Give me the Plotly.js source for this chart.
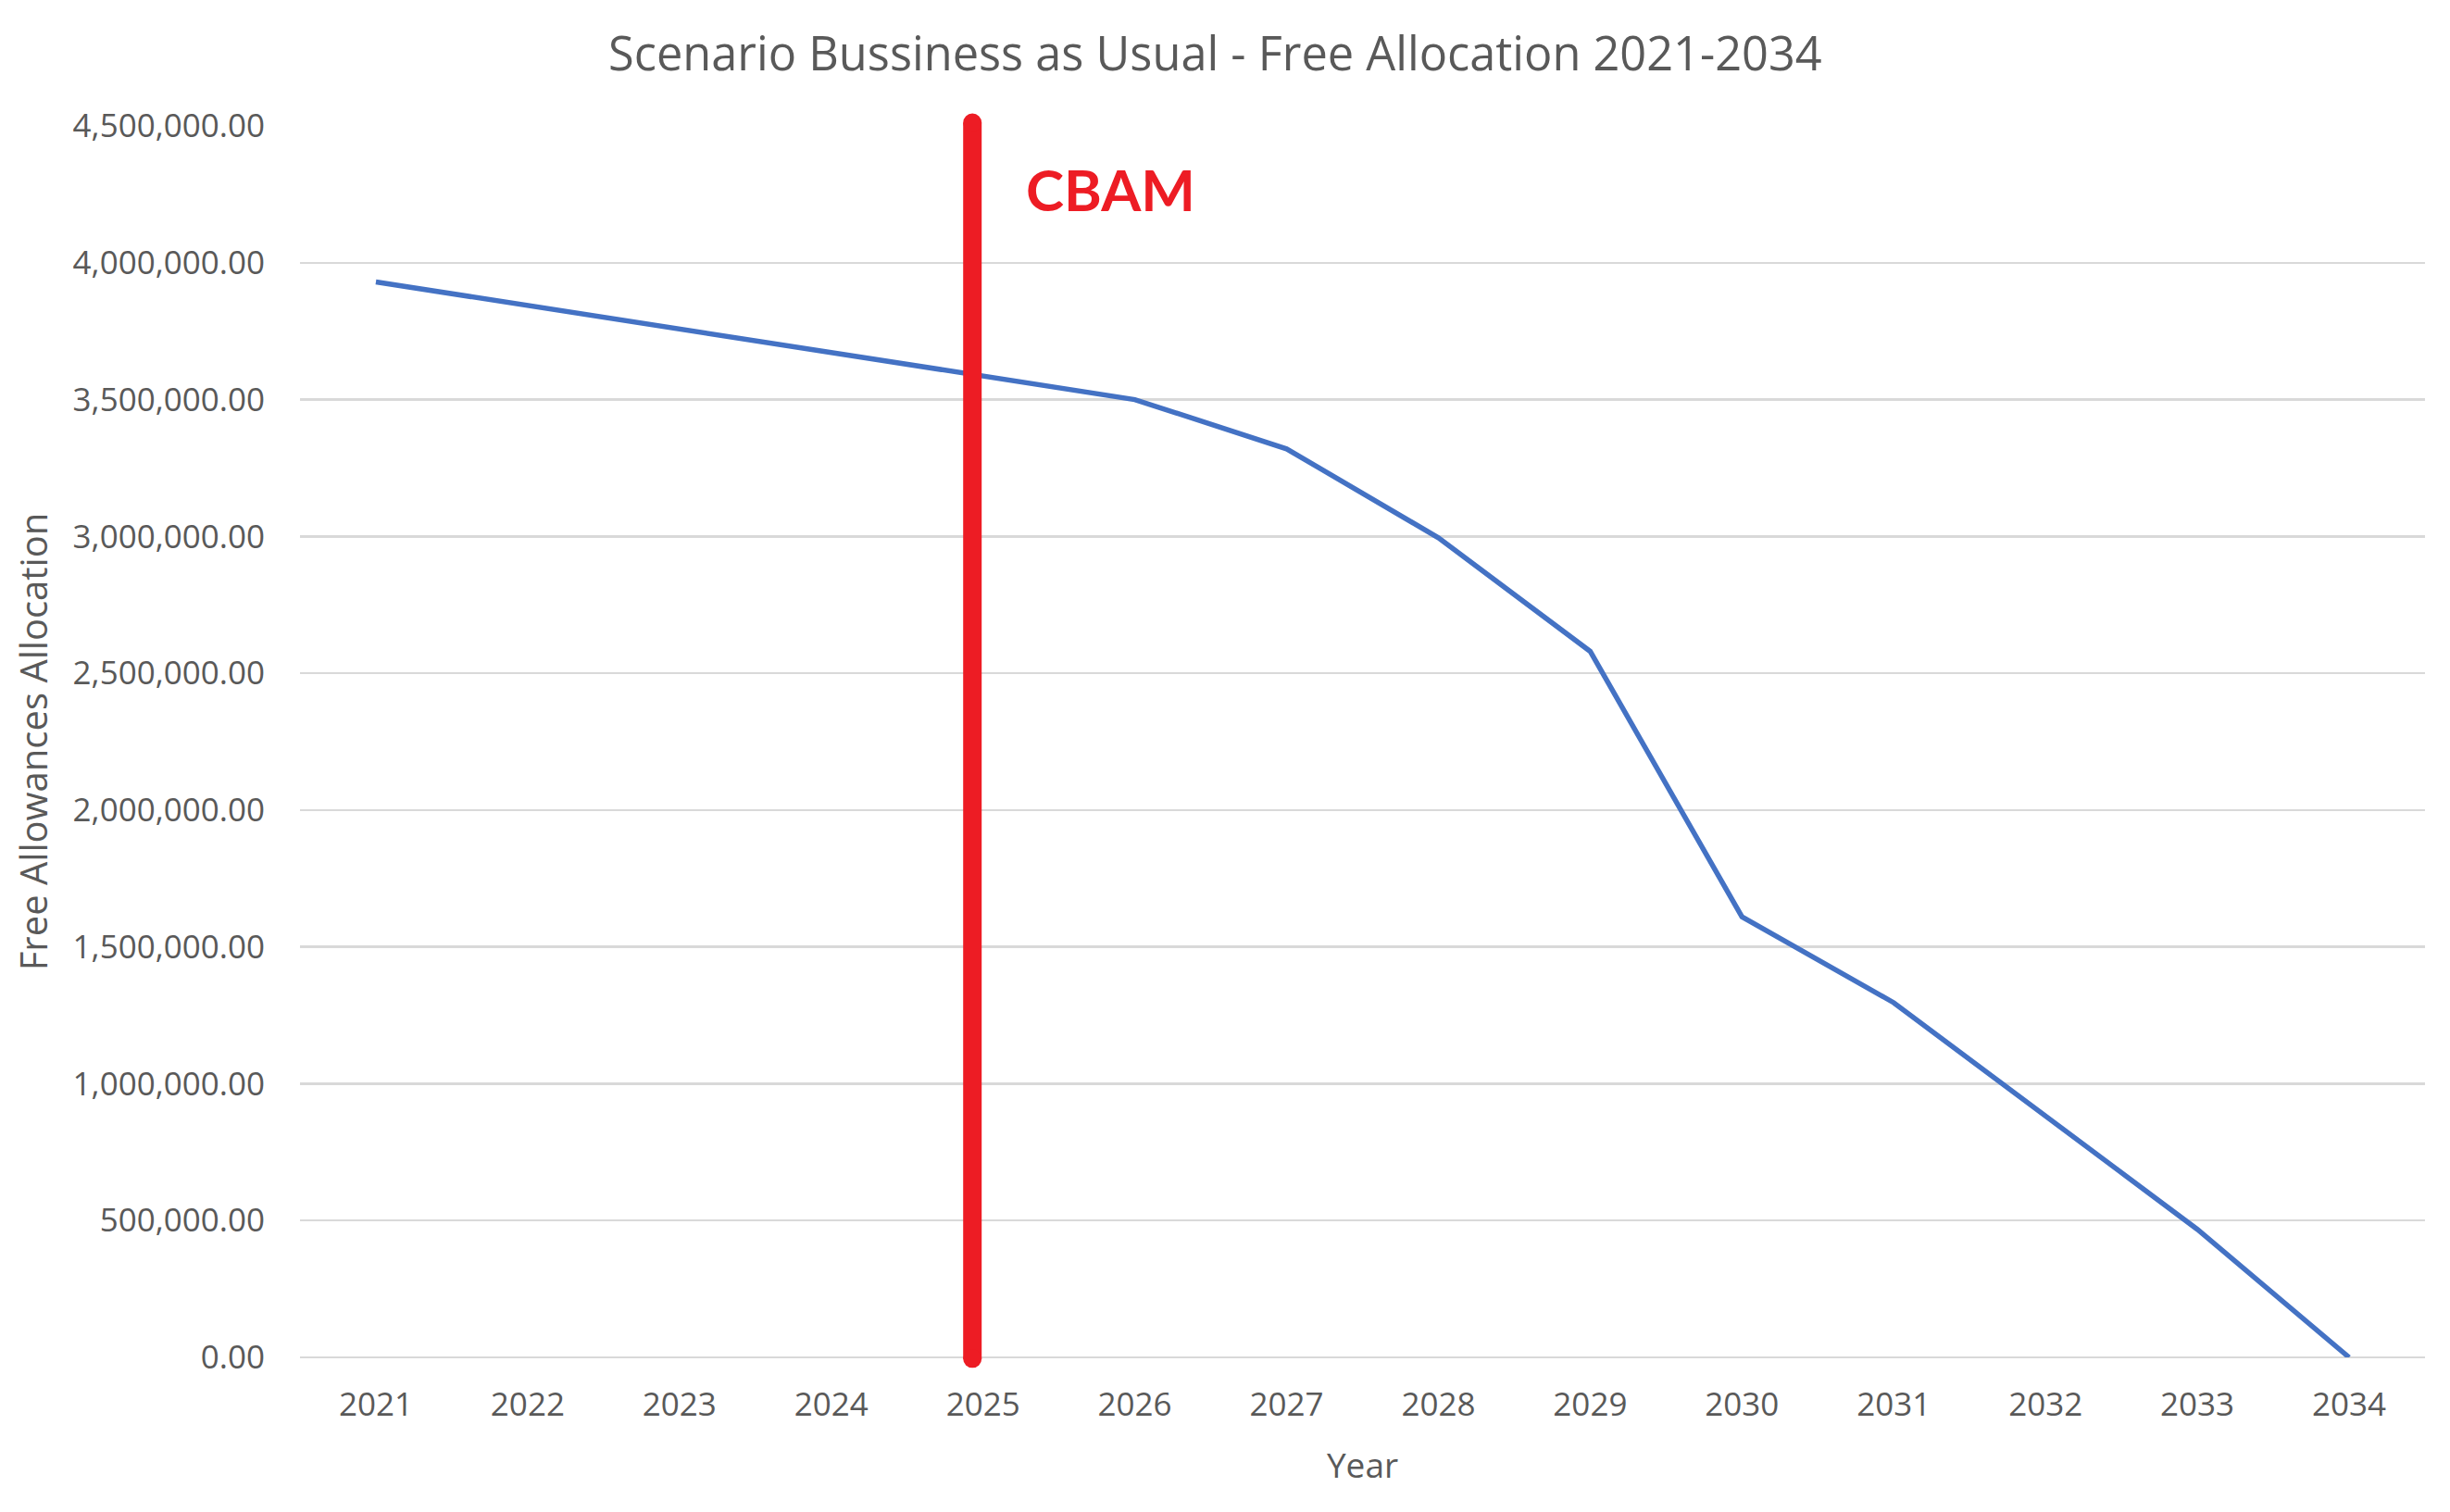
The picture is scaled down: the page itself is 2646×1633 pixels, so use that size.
<!DOCTYPE html>
<html>
<head>
<meta charset="utf-8">
<script src="https://cdn.plot.ly/plotly-3.0.1.min.js"></script>
<style>html,body{margin:0;padding:0;background:#fff;}#chart{width:2646px;height:1633px;}</style>
</head>
<body>
<div id="chart"></div>
<script>
const years = ['2021','2022','2023','2024','2025','2026','2027','2028','2029','2030','2031','2032','2033','2034'];
const freeAllocation = [3930000, 3844000, 3758000, 3672000, 3586000, 3500000, 3320000, 2995000, 2580000, 1610000, 1296000, 883000, 468000, 0];
const yTickVals = [0, 500000, 1000000, 1500000, 2000000, 2500000, 3000000, 3500000, 4000000, 4500000];
const cbamYear = '2025';
const cbamLabel = 'CBAM';

const cbamIdx = years.indexOf(cbamYear);
const cbamX = cbamIdx - 0.07;
const grey = '#595959';
const red = '#ED1C24';

const trace = {
  x: years,
  y: freeAllocation,
  type: 'scatter',
  mode: 'lines',
  line: {color: '#4472C4', width: 5.5},
  showlegend: false,
  hoverinfo: 'x+y'
};

function cap(yPaper) {
  return {
    type: 'circle', xref: 'x', yref: 'paper',
    xsizemode: 'pixel', ysizemode: 'pixel',
    xanchor: cbamX, yanchor: yPaper,
    x0: -10, x1: 10, y0: -10, y1: 10,
    fillcolor: red, line: {width: 0}, layer: 'above'
  };
}

const layout = {
  width: 2646,
  height: 1633,
  paper_bgcolor: '#ffffff',
  plot_bgcolor: '#ffffff',
  margin: {l: 324, r: 27, t: 136, b: 167},
  title: {
    text: 'Scenario Bussiness as Usual - Free Allocation 2021-2034',
    font: {family: 'Open Sans', size: 50.5, color: grey},
    x: 0.496, xanchor: 'center', y: 0.964, yanchor: 'middle'
  },
  xaxis: {
    type: 'category',
    categoryorder: 'array',
    categoryarray: years,
    range: [-0.5, years.length - 0.5],
    showgrid: false,
    showline: false,
    zeroline: false,
    ticks: 'outside', ticklen: 20, tickcolor: 'rgba(0,0,0,0)',
    tickfont: {family: 'Open Sans', size: 35, color: grey},
    title: {text: 'Year', font: {family: 'Open Sans', size: 37, color: grey}, standoff: 32},
    automargin: false
  },
  yaxis: {
    range: [0, 4500000],
    tickvals: yTickVals,
    ticktext: yTickVals.map(v => v.toLocaleString('en-US', {minimumFractionDigits: 2, maximumFractionDigits: 2})),
    showgrid: true,
    gridcolor: '#D9D9D9',
    gridwidth: 2.5,
    zeroline: true,
    zerolinecolor: '#D9D9D9',
    zerolinewidth: 2.5,
    showline: false,
    ticks: 'outside', ticklen: 30, tickcolor: 'rgba(0,0,0,0)',
    tickfont: {family: 'Open Sans', size: 35, color: grey},
    title: {text: 'Free Allowances Allocation', font: {family: 'Open Sans', size: 40, color: grey}, standoff: 14},
    automargin: false
  },
  shapes: [
    {
      type: 'line',
      xref: 'x', yref: 'paper',
      x0: cbamX, x1: cbamX,
      y0: -0.001, y1: 1.0026,
      line: {color: red, width: 20},
      layer: 'above'
    },
    cap(-0.001),
    cap(1.0026)
  ],
  annotations: [{
    text: '<b>' + cbamLabel + '</b>',
    xref: 'x', yref: 'y',
    x: cbamIdx + 0.27, xanchor: 'left',
    y: 4270000, yanchor: 'middle',
    showarrow: false,
    font: {family: 'Lato', size: 62, color: red}
  }]
};

Plotly.newPlot('chart', [trace], layout, {displayModeBar: false, staticPlot: true});
</script>
</body>
</html>
